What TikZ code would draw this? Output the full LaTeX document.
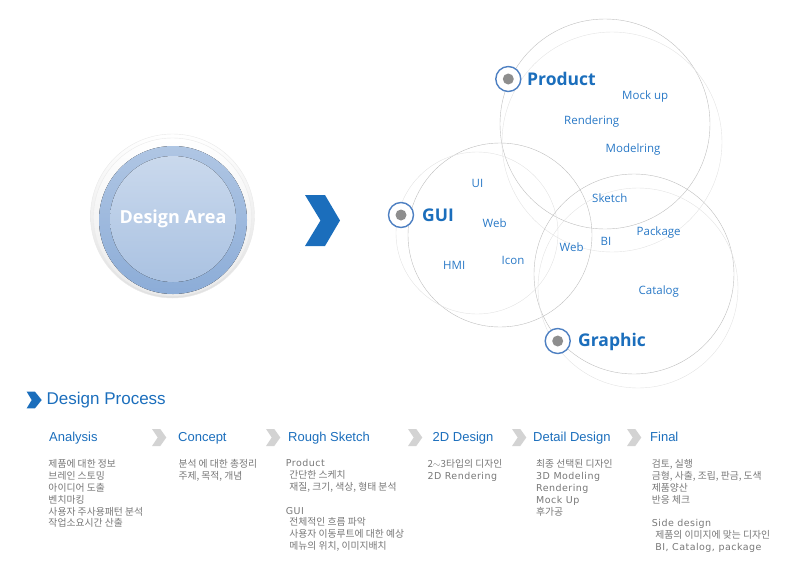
\documentclass[tikz,border=0pt]{standalone}
\usepackage{fontspec}
\setmainfont{Open Sans}
\newfontfamily\arialfont{Liberation Sans}
\newfontfamily\krfont{Noto Sans CJK KR}
\newfontfamily\latfont{DejaVu Sans}[LetterSpace=5]
\usetikzlibrary{positioning}

\definecolor{titleblue}{HTML}{1B6EBC}
\definecolor{labelblue}{HTML}{2878C6}
\definecolor{ringblue}{HTML}{4E80C2}
\definecolor{dotgray}{HTML}{8E8E8E}
\definecolor{darkring}{HTML}{BEBEBE}
\definecolor{lightring}{HTML}{E3E3E3}
\definecolor{bodygray}{HTML}{777777}
\definecolor{chevgray}{HTML}{D3D3D3}

\begin{document}
\begin{tikzpicture}[x=1pt,y=1pt]
	\tikzstyle{every node}+=[inner sep=0pt]
	\tikzstyle{bullet}=[circle, draw=ringblue, line width=1.4pt, fill=white, minimum size=25pt]
	\tikzstyle{bigtitle}=[font=\bfseries\fontsize{17.5}{20}\selectfont, text=titleblue, anchor=base west]
	\tikzstyle{tag}=[font=\fontsize{11.5}{13}\selectfont, text=labelblue, anchor=base west]
	\tikzstyle{stage}=[font=\arialfont\fontsize{13}{15}\selectfont, text=titleblue, anchor=base west]
	\tikzstyle{body}=[font=\krfont\fontsize{9.8}{11.8}\selectfont, text=bodygray, align=left, anchor=north west]
	\useasboundingbox (0,0) rectangle (796,-582);
	% design area
	\draw [lightring!80, top color=white, bottom color=black!12] (172.5,-216) circle (82);
	\draw [white!60!gray!40, top color=white, bottom color=black!8] (172.5,-217) circle (79);
	\fill [top color=ringblue!45, bottom color=ringblue!65] (173,-220) circle (74);
	\fill [top color=ringblue!30, bottom color=ringblue!48] (173,-219) circle (63);
	\node (areaText) at (173,-219) [font=\bfseries\fontsize{18}{20}\selectfont, text=white] {Design Area};
	% big arrow
	\fill [titleblue] (305,-195) -- (325,-195) -- (340,-220.5) -- (325,-246) -- (305,-246) -- (320.5,-220.5) -- cycle;
	% circles
	\draw [darkring] (605,-124) circle (105);
	\draw [lightring] (612,-142) circle (110);
	\draw [darkring] (500,-235) circle (92);
	\draw [lightring] (477,-233) circle (81);
	\draw [darkring] (634,-274) circle (100);
	\draw [lightring] (638,-288) circle (100);
	\node (productMark) at (508.3,-79) [bullet] {};
	\fill [dotgray] (productMark) circle (5.5);
	\node (guiMark) at (401,-215) [bullet] {};
	\fill [dotgray] (guiMark) circle (5.5);
	\node (graphicMark) at (557.7,-341) [bullet] {};
	\fill [dotgray] (graphicMark) circle (5.5);
	\node (productTitle) at (527,-85) [bigtitle] {Product};
	\node (guiTitle) at (422,-221.7) [bigtitle] {GUI};
	\node (graphicTitle) at (578,-346.7) [bigtitle] {Graphic};
	\node (mockTag) at (622,-99.3) [tag] {Mock up};
	\node (renderTag) at (564,-124) [tag] {Rendering};
	\node (modelTag) at (605.5,-152.3) [tag] {Modelring};
	\node (uiTag) at (471.5,-187.7) [tag] {UI};
	\node (sketchTag) at (592,-202) [tag] {Sketch};
	\node (webTag) at (482.5,-227.7) [tag] {Web};
	\node (packageTag) at (636.5,-235.3) [tag] {Package};
	\node (biTag) at (600.5,-245.7) [tag] {BI};
	\node (webTagB) at (559.5,-251.7) [tag] {Web};
	\node (hmiTag) at (443,-269) [tag] {HMI};
	\node (iconTag) at (501.5,-264) [tag] {Icon};
	\node (catalogTag) at (638.5,-294) [tag] {Catalog};
	% design process
	\fill [titleblue] (26.7,-391.7) -- (35,-391.7) -- (41.7,-400) -- (35,-408.3) -- (26.7,-408.3) -- (31.7,-400) -- cycle;
	\node (processTitle) at (46.5,-404.3) [font=\arialfont\fontsize{17}{19}\selectfont, text=titleblue, anchor=base west] {Design Process};
	\node (analysisTitle) at (49,-441.7) [stage] {Analysis};
	\node (conceptTitle) at (178,-441.7) [stage] {Concept};
	\node (roughTitle) at (288,-441.7) [stage] {Rough Sketch};
	\node (twodTitle) at (432.5,-441.7) [stage] {2D Design};
	\node (detailTitle) at (533,-441.7) [stage] {Detail Design};
	\node (finalTitle) at (650,-441.7) [stage] {Final};
	\fill [chevgray] (152,-429) -- (160.3,-429) -- (166.3,-437.5) -- (160.3,-446) -- (152,-446) -- (157.7,-437.5) -- cycle;
	\fill [chevgray] (266,-429) -- (274.3,-429) -- (280.3,-437.5) -- (274.3,-446) -- (266,-446) -- (271.7,-437.5) -- cycle;
	\fill [chevgray] (408,-429) -- (416.3,-429) -- (422.3,-437.5) -- (416.3,-446) -- (408,-446) -- (413.7,-437.5) -- cycle;
	\fill [chevgray] (512,-429) -- (520.3,-429) -- (526.3,-437.5) -- (520.3,-446) -- (512,-446) -- (517.7,-437.5) -- cycle;
	\fill [chevgray] (627,-429) -- (635.3,-429) -- (641.3,-437.5) -- (635.3,-446) -- (627,-446) -- (632.7,-437.5) -- cycle;
	\node (analysisText) at (48.3,-459.5) [body] {제품에 대한 정보\\브레인 스토밍\\아이디어 도출\\벤치마킹\\사용자 주사용패턴 분석\\작업소요시간 산출};
	\node (conceptText) at (178.3,-459.5) [body] {분석 에 대한 총정리\\주제, 목적, 개념};
	\node (roughText) at (285.7,-459.5) [body] {{\latfont\fontsize{9.5}{11.8}\selectfont Product}\\\hspace{3.5pt}간단한 스케치\\\hspace{3.5pt}재질, 크기, 색상, 형태 분석\\[11.8pt]{\latfont\fontsize{9.5}{11.8}\selectfont GUI}\\\hspace{3.5pt}전체적인 흐름 파악\\\hspace{3.5pt}사용자 이동루트에 대한 예상\\\hspace{3.5pt}메뉴의 위치, 이미지배치};
	\node (twodText) at (427.3,-459.5) [body] {2$\sim$3타입의 디자인\\{\latfont\fontsize{9.5}{11.8}\selectfont 2D Rendering}};
	\node (detailText) at (536,-459.5) [body] {최종 선택된 디자인\\{\latfont\fontsize{9.5}{11.8}\selectfont 3D Modeling}\\{\latfont\fontsize{9.5}{11.8}\selectfont Rendering}\\{\latfont\fontsize{9.5}{11.8}\selectfont Mock Up}\\후가공};
	\node (finalText) at (651.7,-459.5) [body] {검토, 실행\\금형, 사출, 조립, 판금, 도색\\제품양산\\반응 체크\\[11.8pt]{\latfont\fontsize{9.5}{11.8}\selectfont Side design}\\\hspace{3.5pt}제품의 이미지에 맞는 디자인\\\hspace{3.5pt}{\latfont\fontsize{9.5}{11.8}\selectfont BI, Catalog, package}};
\end{tikzpicture}
\end{document}
